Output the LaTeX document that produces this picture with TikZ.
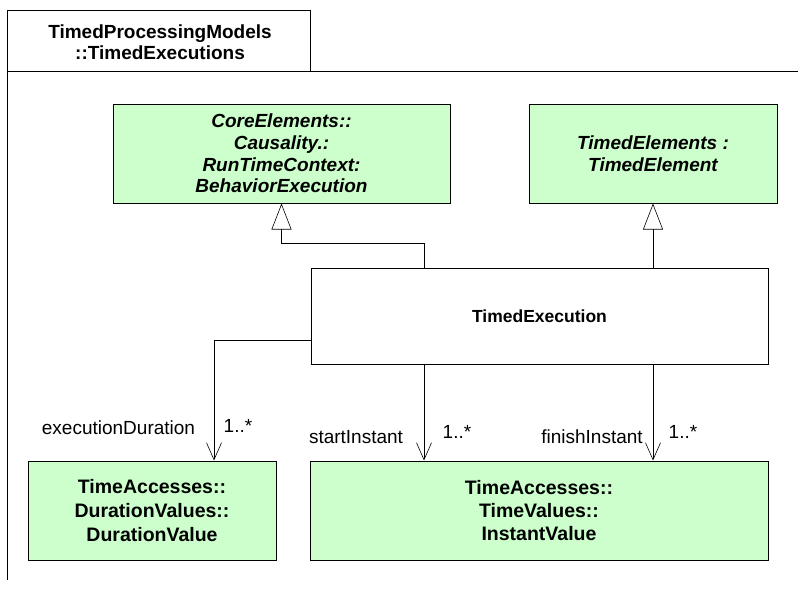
\documentclass[tikz,border=0pt]{standalone}
\usepackage{fontspec}
\setmainfont{Liberation Sans}
\usepackage{xcolor}
\usetikzlibrary{arrows.meta}
\definecolor{classGreen}{HTML}{CCFFCC}

\begin{document}
\begin{tikzpicture}[x=1pt, y=-1pt,
  classbox/.style={draw=black, line width=1pt, fill=classGreen, align=center,
    inner sep=0pt, font=\fontsize{19}{23}\selectfont\bfseries},
  genline/.style={-{Triangle[open, length=26pt, width=20pt]}, line width=0.6pt},
  assocline/.style={-{Straight Barb[length=17pt, width=15pt]}, line width=0.6pt},
  rolename/.style={font=\fontsize{19}{22}\selectfont, inner sep=0pt}]
  \useasboundingbox (0,0) rectangle (798,589);

  % Package frame
  \draw[line width=1pt] (7,580) -- (7,10) -- (310,10) -- (310,71);
  \draw[line width=1pt] (7,71) -- (798,71);
  \node[font=\fontsize{19}{21}\selectfont\bfseries, align=center] (pkg) at (160,42)
    {TimedProcessingModels\\::TimedExecutions};

  % Parent classes
  \node[classbox, minimum width=337, minimum height=99,
    font=\fontsize{19}{21.7}\selectfont\bfseries\itshape] (core) at (281.5,153.5)
    {CoreElements::\\Causality.:\\RunTimeContext:\\BehaviorExecution};
  \node[classbox, minimum width=248, minimum height=99,
    font=\fontsize{19}{22}\selectfont\bfseries\itshape] (timedel) at (653,153.5)
    {TimedElements :\\TimedElement};

  % Timed execution
  \node[draw=black, line width=1pt, fill=white, minimum width=457, minimum height=96,
    font=\fontsize{17.5}{22}\selectfont\bfseries] (exec) at (539.5,316) {TimedExecution};

  % Value classes
  \node[classbox, minimum width=248, minimum height=99, font=\fontsize{19.5}{24}\selectfont\bfseries]
    (durval) at (152,510.5) {TimeAccesses::\\DurationValues::\\DurationValue};
  \node[classbox, minimum width=458, minimum height=99, font=\fontsize{19.5}{23}\selectfont\bfseries]
    (instval) at (539,510.5) {TimeAccesses::\\TimeValues::\\InstantValue};

  % Generalizations
  \coordinate (genbend) at (424,243);
  \draw[genline] (exec.north -| genbend) -- (genbend) -| (core.south);
  \draw[genline] (exec.north -| timedel.south) -- (timedel.south);

  % Associations
  \coordinate (durbend) at (214,340);
  \draw[assocline] (exec.west |- durbend) -- (durbend) -- (durbend |- durval.north);
  \draw[assocline] (exec.south -| genbend) -- (genbend |- instval.north);
  \draw[assocline] (exec.south -| timedel.south) -- (timedel.south |- instval.north);

  % Role names and multiplicities
  \node[rolename] (durrole) at (118.5,428) {executionDuration};
  \node[rolename] (durmult) at (238,426) {1..*};
  \node[rolename] (startrole) at (356,437) {startInstant};
  \node[rolename] (startmult) at (457,432) {1..*};
  \node[rolename] (finishrole) at (592,437) {finishInstant};
  \node[rolename] (finishmult) at (683,432) {1..*};
\end{tikzpicture}
\end{document}
